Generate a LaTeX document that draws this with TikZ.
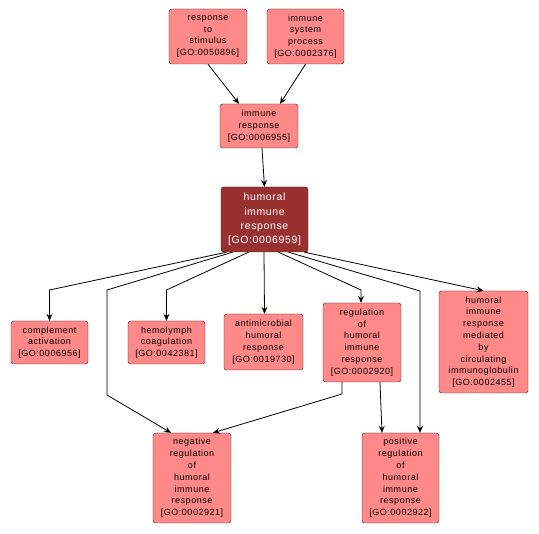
\documentclass[tikz,border=0pt]{standalone}
\usepackage{fontspec}
\usepackage{tikz}
\usetikzlibrary{arrows.meta,calc}
\newfontfamily\termfont[LetterSpace=6]{Liberation Sans}

\begin{document}
\begin{tikzpicture}[x=1pt,y=-1pt,
    term/.style={draw=black!85, fill=termpink, rounded corners=2.5pt, align=center, inner sep=0pt, font=\termfont\fontsize{9}{11.8}\selectfont},
    focus/.style={term, fill=termdark, text=white, font=\termfont\fontsize{10.5}{14.2}\selectfont},
    edge/.style={draw=black, line width=0.8pt, -{Stealth[length=7pt,width=6pt,inset=2.5pt]}}]

        % Define colors for terms
        \definecolor{termpink}{RGB}{255,136,136} % Ordinary term
        \definecolor{termdark}{RGB}{153,48,48} % Term in focus

        % Fix the canvas
        \fill[white] (0,0) rectangle (539,534);
        \useasboundingbox (0,0) rectangle (539,534);

        % Top terms
        \node[term, minimum width=78, minimum height=55] (stim) at (208,36.5) {response\\to\\stimulus\\{[GO:0050896]}};
        \node[term, minimum width=77, minimum height=55] (syspr) at (305.5,36.5) {immune\\system\\process\\{[GO:0002376]}};
        \node[term, minimum width=78, minimum height=44] (immresp) at (259,126) {immune\\response\\{[GO:0006955]}};

        % Term in focus
        \node[focus, minimum width=87, minimum height=65] (humoral) at (264.5,219.5) {humoral\\immune\\response\\{[GO:0006959]}};

        % Child terms
        \node[term, minimum width=77, minimum height=43] (complact) at (49.5,342.5) {complement\\activation\\{[GO:0006956]}};
        \node[term, minimum width=77, minimum height=43] (hemolymph) at (166.5,342.5) {hemolymph\\coagulation\\{[GO:0042381]}};
        \node[term, minimum width=79, minimum height=56] (antimicr) at (263.5,342) {antimicrobial\\humoral\\response\\{[GO:0019730]}};
        \node[term, minimum width=78, minimum height=79] (reghum) at (362,342.5) {regulation\\of\\humoral\\immune\\response\\{[GO:0002920]}};
        \node[term, minimum width=89, minimum height=102] (mediated) at (483.5,342) {humoral\\immune\\response\\mediated\\by\\circulating\\immunoglobulin\\{[GO:0002455]}};
        \node[term, minimum width=78, minimum height=90] (negreg) at (192,478) {negative\\regulation\\of\\humoral\\immune\\response\\{[GO:0002921]}};
        \node[term, minimum width=77, minimum height=90] (posreg) at (400.5,478) {positive\\regulation\\of\\humoral\\immune\\response\\{[GO:0002922]}};

        % Bend points
        \coordinate (negbend) at (107,290);

        % Edges into the focus
        \draw[edge] (stim.south) -- ([xshift=-20]immresp.north);
        \draw[edge] (syspr.south) -- ([xshift=21]immresp.north);
        \draw[edge] ([xshift=3]immresp.south) -- (humoral.north);

        % Edges out of the focus
        \draw[edge] ([xshift=-38]humoral.south) -- (complact.north |- 0,290) -- (complact.north);
        \draw[edge] ([xshift=-32]humoral.south) -- (negbend) -- (negbend |- 0,395) -- ([xshift=-21]negreg.north);
        \draw[edge] ([xshift=-16]humoral.south) -- (hemolymph.north |- 0,290) -- (hemolymph.north);
        \draw[edge] ([xshift=-0.5]humoral.south) -- (antimicr.north -| humoral.south);
        \draw[edge] ([xshift=14]humoral.south) -- ([xshift=-1]reghum.north |- 0,290) -- ([xshift=-1]reghum.north);
        \draw[edge] ([xshift=24]humoral.south) -- ([xshift=19.5]posreg.north |- 0,291) -- ([xshift=19.5]posreg.north);
        \draw[edge] ([xshift=40]humoral.south) -- (mediated.north);

        % Edges out of the regulation term
        \draw[edge] ([xshift=-20]reghum.south) -- ([xshift=-20]reghum.south |- 0,394) -- ([xshift=21]negreg.north);
        \draw[edge] ([xshift=18]reghum.south) -- ([xshift=-18.5]posreg.north);
        \end{tikzpicture}
\end{document}
